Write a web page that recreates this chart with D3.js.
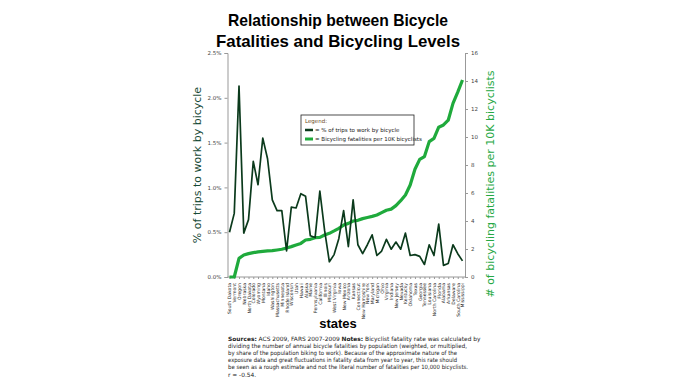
<!DOCTYPE html>
<html>
<head>
<meta charset="utf-8">
<script src="https://cdn.jsdelivr.net/npm/d3@7"></script>
<style>
  body { margin: 0; background: #fff; }
  svg { display: block; }
  text { font-family: "DejaVu Sans", sans-serif; }
</style>
</head>
<body>
<svg id="chart" width="676" height="380"></svg>
<script>
// states ordered by fatality rate (low to high)
const states = ["South Dakota", "Vermont", "Oregon", "Nebraska", "North Dakota", "Colorado", "Wyoming", "Montana",
  "Idaho", "Washington", "Massachusetts", "Minnesota", "Rhode Island", "Wisconsin", "Utah", "Hawaii", "Alaska",
  "Maine", "Pennsylvania", "California", "Illinois", "Missouri", "West Virginia", "Iowa", "New Mexico", "Arizona",
  "Kansas", "Connecticut", "New Hampshire", "New York", "Maryland", "Michigan", "Ohio", "Virginia", "Indiana",
  "New Jersey", "Nevada", "Kentucky", "Oklahoma", "Texas", "Georgia", "Tennessee", "Louisiana", "North Carolina",
  "Florida", "Alabama", "Arkansas", "Delaware", "South Carolina", "Mississippi"];

// % of trips to work by bicycle
const pctBike = [0.50, 0.71, 2.13, 0.49, 0.64, 1.29, 1.03, 1.55, 1.32, 0.86,
  0.74, 0.74, 0.29, 0.78, 0.77, 0.93, 0.90, 0.46, 0.44, 0.96,
  0.52, 0.17, 0.25, 0.43, 0.74, 0.34, 0.86, 0.36, 0.26, 0.36,
  0.47, 0.24, 0.29, 0.42, 0.31, 0.39, 0.31, 0.49, 0.24, 0.25,
  0.23, 0.14, 0.36, 0.24, 0.59, 0.13, 0.15, 0.36, 0.26, 0.18];

// bicycling fatalities per 10K bicyclists
const fatalityRate = [0, 0, 1.33, 1.57, 1.67, 1.74, 1.79, 1.83, 1.86, 1.88,
  1.93, 1.98, 2.07, 2.17, 2.29, 2.4, 2.64, 2.69, 2.81, 2.83,
  3.0, 3.12, 3.29, 3.48, 3.71, 3.83, 4.0, 4.05, 4.17, 4.25,
  4.33, 4.43, 4.6, 4.77, 4.85, 5.1, 5.45, 5.86, 6.57, 7.7,
  8.4, 8.6, 9.67, 9.9, 10.7, 10.86, 11.2, 12.4, 13.2, 14.07];

const leftTicks = [0, 0.5, 1.0, 1.5, 2.0, 2.5];
const rightTicks = [0, 2, 4, 6, 8, 10, 12, 14, 16];

const titleLines = ["Relationship between Bicycle", "Fatalities and Bicycling Levels"];
const legendLabels = ["= % of trips to work by bicycle", "= Bicycling fatalities per 10K bicyclists"];
const notes = [
  [["Sources:", true], [" ACS 2009, FARS 2007-2009 ", false], ["Notes:", true], [" Bicyclist fatality rate was calculated by", false]],
  [["dividing the number of annual bicycle fatalities by population (weighted, or multiplied,", false]],
  [["by share of the population biking to work). Because of the approximate nature of the", false]],
  [["exposure data and great fluctuations in fatality data from year to year, this rate should", false]],
  [["be seen as a rough estimate and not the literal number of fatalities per 10,000 bicyclists.", false]],
  [["r = -0.54.", false]]
];
// measured widths of the lines in the reference (null = natural width)
const titleWidths = [220, 244];
const noteWidths = [null, 239, 229, 229, 240, null];

const darkGreen = "#0b3a1c";
const brightGreen = "#1faa3c";
const plotLeft = 227.5, plotRight = 465, plotTop = 53, plotBottom = 277;

const svg = d3.select("#chart");

const x = d3.scalePoint().domain(states).range([229.5, 462.5]);
const yL = d3.scaleLinear().domain([0, 2.5]).range([plotBottom, plotTop]);
const yR = d3.scaleLinear().domain([0, 16]).range([plotBottom, plotTop]);

// title
svg.append("g").selectAll("text")
  .data(titleLines)
  .enter()
  .append("text")
  .attr("x", 338)
  .attr("y", (d, i) => 26 + i * 21)
  .attr("text-anchor", "middle")
  .attr("textLength", (d, i) => titleWidths[i])
  .attr("lengthAdjust", "spacingAndGlyphs")
  .style("font-family", "'Liberation Sans', Arial, sans-serif")
  .style("font-size", "17px")
  .style("font-weight", "bold")
  .text(d => d);

// left axis
const gl = svg.append("g")
  .attr("transform", `translate(${plotLeft},0)`)
  .call(d3.axisLeft(yL).tickValues(leftTicks).tickSize(3).tickFormat(d => d.toFixed(1) + "%"));
// right axis
const gr = svg.append("g")
  .attr("transform", `translate(${plotRight},0)`)
  .call(d3.axisRight(yR).tickValues(rightTicks).tickSize(3));
[gl, gr].forEach(g => {
  g.select(".domain").attr("stroke", "#999");
  g.selectAll(".tick line").attr("stroke", "#999");
  g.selectAll(".tick text").style("font-size", "5.5px").attr("fill", "#444");
});

// bottom axis
const gb = svg.append("g")
  .attr("transform", `translate(0,${plotBottom})`)
  .call(d3.axisBottom(x).tickSize(2).tickSizeOuter(0));
gb.select(".domain").attr("stroke", "#999").attr("d", `M${plotLeft},0H${plotRight}`);
gb.selectAll(".tick line").attr("stroke", "#999");
gb.selectAll(".tick text")
  .style("font-size", "4.6px")
  .attr("fill", "#222")
  .attr("text-anchor", "end")
  .attr("transform", "rotate(-90)")
  .attr("x", -6)
  .attr("y", 0)
  .attr("dy", "0.32em");

// lines
const lineL = d3.line().x((d, i) => x(states[i])).y(d => yL(d));
const lineR = d3.line().x((d, i) => x(states[i])).y(d => yR(d));

svg.append("path")
  .datum(fatalityRate)
  .attr("d", lineR)
  .attr("fill", "none")
  .attr("stroke", brightGreen)
  .attr("stroke-width", 3.2)
  .attr("stroke-linejoin", "round");

svg.append("path")
  .datum(pctBike)
  .attr("d", lineL)
  .attr("fill", "none")
  .attr("stroke", darkGreen)
  .attr("stroke-width", 1.7)
  .attr("stroke-linejoin", "round");

// axis titles
svg.append("text")
  .attr("transform", `translate(201,165) rotate(-90)`)
  .attr("text-anchor", "middle")
  .attr("fill", "#184a36")
  .style("font-size", "11px")
  .text("% of trips to work by bicycle");

svg.append("text")
  .attr("transform", `translate(494,184) rotate(-90)`)
  .attr("text-anchor", "middle")
  .attr("fill", "#26a844")
  .style("font-size", "11px")
  .text("# of bicycling fatalities per 10K bicyclists");

svg.append("text")
  .attr("x", 338)
  .attr("y", 328)
  .attr("text-anchor", "middle")
  .style("font-family", "'Liberation Sans', Arial, sans-serif")
  .style("font-size", "13px")
  .style("font-weight", "bold")
  .text("states");

// legend
const lg = svg.append("g").attr("transform", "translate(301,115)");
lg.append("rect")
  .attr("width", 113).attr("height", 30)
  .attr("fill", "#fff").attr("stroke", "#222").attr("stroke-width", 0.8);
lg.append("text")
  .attr("x", 4).attr("y", 8)
  .attr("fill", "#6b4a1a")
  .style("font-size", "5.5px")
  .text("Legend:");
lg.selectAll(".item")
  .data(legendLabels)
  .enter()
  .append("g")
  .attr("transform", (d, i) => `translate(4,${15 + i * 9})`)
  .each(function(d, i) {
    d3.select(this).append("line")
      .attr("x1", 0).attr("x2", 8)
      .attr("stroke", i === 0 ? darkGreen : brightGreen)
      .attr("stroke-width", i === 0 ? 2.5 : 3);
    d3.select(this).append("text")
      .attr("x", 10).attr("dy", "0.35em")
      .style("font-size", "5.5px")
      .attr("fill", "#222")
      .text(d);
  });

// notes
const nt = svg.append("g");
nt.selectAll("text")
  .data(notes)
  .enter()
  .append("text")
  .attr("x", 228)
  .attr("y", (d, i) => 340.5 + i * 7.2)
  .style("font-size", "5.9px")
  .attr("fill", "#222")
  .each(function(parts, i) {
    const t = d3.select(this);
    if (noteWidths[i]) {
      t.attr("textLength", noteWidths[i]).attr("lengthAdjust", "spacingAndGlyphs");
    }
    t.selectAll("tspan")
      .data(parts)
      .enter()
      .append("tspan")
      .style("font-weight", p => p[1] ? "bold" : "normal")
      .text(p => p[0]);
  });
</script>
</body>
</html>
